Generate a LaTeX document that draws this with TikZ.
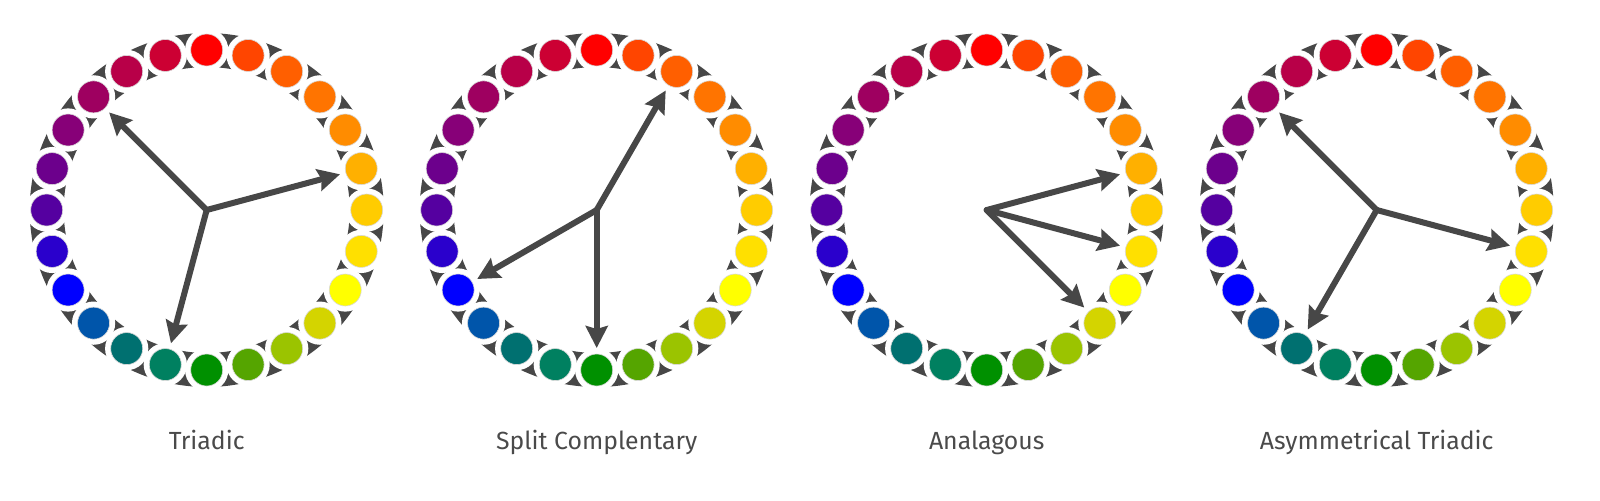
\documentclass[tikz,border=0pt]{standalone}
\usepackage{fontspec}
\setmainfont{Fira Sans}
\usetikzlibrary{arrows.meta}

% colour wheel, clockwise from the top
\definecolor{c0}{HTML}{FF0000}
\definecolor{c1}{HTML}{FF4500}
\definecolor{c2}{HTML}{FF5F00}
\definecolor{c3}{HTML}{FF7400}
\definecolor{c4}{HTML}{FF8C00}
\definecolor{c5}{HTML}{FFB000}
\definecolor{c6}{HTML}{FFCC00}
\definecolor{c7}{HTML}{FFE000}
\definecolor{c8}{HTML}{FFFF00}
\definecolor{c9}{HTML}{D4D400}
\definecolor{c10}{HTML}{9BC400}
\definecolor{c11}{HTML}{55A500}
\definecolor{c12}{HTML}{009000}
\definecolor{c13}{HTML}{008060}
\definecolor{c14}{HTML}{007070}
\definecolor{c15}{HTML}{0055AA}
\definecolor{c16}{HTML}{0000FF}
\definecolor{c17}{HTML}{2A00CC}
\definecolor{c18}{HTML}{5500A0}
\definecolor{c19}{HTML}{6C008C}
\definecolor{c20}{HTML}{870078}
\definecolor{c21}{HTML}{9E0060}
\definecolor{c22}{HTML}{B80048}
\definecolor{c23}{HTML}{CC0033}
\definecolor{ringgray}{HTML}{474747}
\definecolor{textgray}{HTML}{4A4A4A}

\tikzset{
    ring/.style={draw=ringgray, line width=17pt},
    dot/.style={circle, inner sep=0pt, minimum size=16pt,
            draw=black!15, line width=0.3pt,
            preaction={draw=white, line width=5.6pt}, outer sep=3pt},
    pointer/.style={draw=ringgray, line width=3pt, line cap=round,
            -{Stealth[length=11pt, width=11pt, inset=1.5pt]}},
    caption/.style={text=textgray, font=\fontsize{12.4}{15}\selectfont, anchor=base}
}

\begin{document}
\begin{tikzpicture}[x=0.5pt, y=0.5pt]

    \useasboundingbox (0,0) rectangle (1600,500);

    %-- one wheel per scheme: number / centre x / name / three picked dots --
    \foreach \w/\cx/\name/\ta/\tb/\tc in {
            1/206.7/Triadic/21/5/13,
            2/596.7/Split Complentary/2/12/16,
            3/986.7/Analagous/5/7/9,
            4/1376.7/Asymmetrical Triadic/21/7/14} {
            \begin{scope}[shift={(\cx,290)}]
                %-- dark ring behind the dots --
                \draw[ring] (0,0) circle (160);
                \coordinate (W\w) at (0,0);

                %-- 24 dots, red on top --
                \foreach \i in {0,...,23}
                \node[dot, fill=c\i] (W\w-\i) at ({90-15*\i}:160) {};

                %-- pointers from the centre --
                \foreach \t in {\ta,\tb,\tc}
                \draw[pointer] (W\w) -- (W\w-\t);

                \node[caption] (L\w) at (0,-239) {\name};
            \end{scope}
        }

\end{tikzpicture}
\end{document}
